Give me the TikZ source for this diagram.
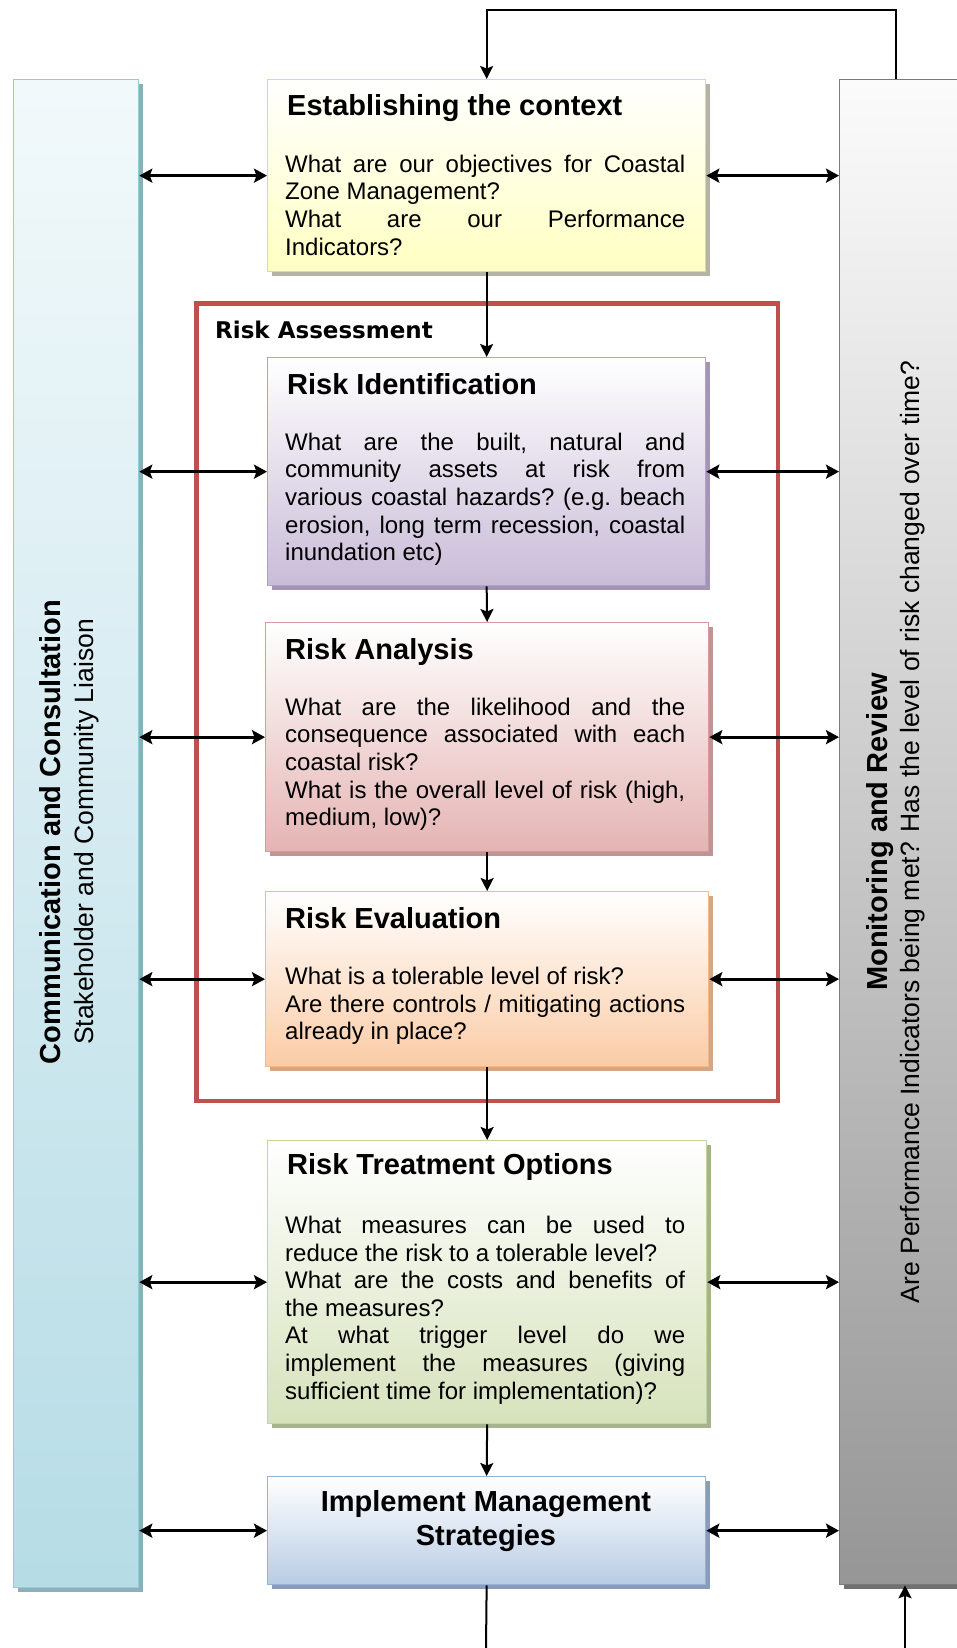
\documentclass[tikz,border=0pt]{standalone}
\usepackage{fontspec}
\setmainfont{Liberation Sans}
\newfontfamily\tahomafont{DejaVu Sans}
\usetikzlibrary{arrows.meta,calc}
\hyphenpenalty=10000
\exhyphenpenalty=10000
\tolerance=10000
\hbadness=10000
\definecolor{ybord}{HTML}{F0E62A}
\definecolor{ybot}{HTML}{FFFFC2}
\definecolor{ysh}{HTML}{B4B4A4}
\definecolor{pbord}{HTML}{B3A2C7}
\definecolor{pbot}{HTML}{C9BCD8}
\definecolor{psh}{HTML}{A396B4}
\definecolor{abord}{HTML}{D99A98}
\definecolor{abot}{HTML}{E4B4B3}
\definecolor{ash}{HTML}{BE9494}
\definecolor{ebord}{HTML}{F7B889}
\definecolor{ebot}{HTML}{FACCA6}
\definecolor{esh}{HTML}{D0A888}
\definecolor{gbord}{HTML}{C3D69B}
\definecolor{gbot}{HTML}{D6E2BC}
\definecolor{gsh}{HTML}{A6B48E}
\definecolor{bbord}{HTML}{95B3D7}
\definecolor{bbot}{HTML}{B8CCE4}
\definecolor{bsh}{HTML}{8C9CB8}
\definecolor{lbbord}{HTML}{92CDDC}
\definecolor{lbtop}{HTML}{F2F9FB}
\definecolor{lbbot}{HTML}{B6DCE6}
\definecolor{lbsh}{HTML}{8CB0BA}
\definecolor{rbbord}{HTML}{7A7A7A}
\definecolor{rbtop}{HTML}{FBFBFB}
\definecolor{rbbot}{HTML}{969696}
\definecolor{rbsh}{HTML}{707070}
\definecolor{rared}{HTML}{C0504D}
\begin{document}
\begin{tikzpicture}[x=1pt,y=-1pt,
  box/.style n args={3}{draw=#1, line width=1.3pt, top color=white, bottom color=#2,
    preaction={fill=#3, transform canvas={xshift=4pt,yshift=-4pt}},
    inner sep=0pt, anchor=north west},
  boxtitle/.style={anchor=base west, inner sep=0pt, font=\bfseries\fontsize{29}{33}\selectfont},
  boxbody/.style={anchor=north west, inner sep=0pt, text width=400pt, align=justify,
    font=\fontsize{24}{27.6}\selectfont\frenchspacing},
  harrow/.style={line width=2.7pt, {Stealth[length=13pt,width=14pt,inset=2.5pt]}-{Stealth[length=13pt,width=14pt,inset=2.5pt]}},
  varrow/.style={line width=2pt, -{Stealth[length=13pt,width=13pt,inset=2.5pt]}},
  conn/.style={line width=2pt}
]
\useasboundingbox (0,0) rectangle (957,1648);

% side bars
\node[box={lbbord}{lbbot}{lbsh}, top color=lbtop, minimum width=125, minimum height=1508] (lb) at (13,79) {};
\node[box={rbbord}{rbbot}{rbsh}, top color=rbtop, minimum width=125, minimum height=1505] (rb) at (839,79) {};
\node[rotate=90, align=center, font=\fontsize{26.5}{33.5}\selectfont] (lbt) at (69,832)
  {{\bfseries\fontsize{29}{33.5}\selectfont Communication and Consultation}\\Stakeholder and Community Liaison};
\node[rotate=90, align=center, font=\fontsize{26.5}{32.5}\selectfont] (rbt) at (895.5,832)
  {{\bfseries\fontsize{29}{32.5}\selectfont Monitoring and Review}\\Are Performance Indicators being met? Has the level of risk changed over time?};

% risk assessment frame
\node[draw=rared, line width=4.5pt, inner sep=0pt, anchor=north west, minimum width=581.5, minimum height=797.5] (ra) at (194.25,301.25) {};
\node[anchor=base west, inner sep=0pt, font=\tahomafont\bfseries\fontsize{23}{27}\selectfont] (ralab) at (215,338) {Risk Assessment};

% establishing the context
\node[box={ybord}{ybot}{ysh}, minimum width=438, minimum height=192] (ctx) at (267,79) {};
\node[boxtitle] (ctxT) at ($(ctx.north west)+(20,37)$) {Establishing the context};
\node[boxbody] (ctxB) at ($(ctx.north west)+(18,75.8)$)
  {What are our objectives for Coastal \linebreak Zone Management?\par
   What are our Performance \linebreak Indicators?};

% risk identification
\node[box={pbord}{pbot}{psh}, minimum width=438, minimum height=228] (rid) at (267,357) {};
\node[boxtitle] (ridT) at ($(rid.north west)+(20,37)$) {Risk Identification};
\node[boxbody] (ridB) at ($(rid.north west)+(18,75.8)$)
  {What are the built, natural and \linebreak community assets at risk from \linebreak various coastal hazards? (e.g. beach \linebreak erosion, long term recession, coastal \linebreak inundation etc)};

% risk analysis
\node[box={abord}{abot}{ash}, minimum width=443, minimum height=229] (ran) at (265,622) {};
\node[boxtitle] (ranT) at ($(ran.north west)+(20,37)$) {Risk Analysis};
\node[boxbody] (ranB) at ($(ran.north west)+(20,75.8)$)
  {What are the likelihood and the \linebreak consequence associated with each \linebreak coastal risk?\par
   What is the overall level of risk (high, \linebreak medium, low)?};

% risk evaluation
\node[box={ebord}{ebot}{esh}, minimum width=443, minimum height=175] (rev) at (265,891) {};
\node[boxtitle] (revT) at ($(rev.north west)+(20,37)$) {Risk Evaluation};
\node[boxbody] (revB) at ($(rev.north west)+(20,75.8)$)
  {What is a tolerable level of risk?\par
   Are there controls / mitigating actions \linebreak already in place?};

% risk treatment options
\node[box={gbord}{gbot}{gsh}, minimum width=439, minimum height=283] (rto) at (267,1140) {};
\node[boxtitle] (rtoT) at ($(rto.north west)+(20,34)$) {Risk Treatment Options};
\node[boxbody] (rtoB) at ($(rto.north west)+(18,75.8)$)
  {What measures can be used to \linebreak reduce the risk to a tolerable level?\par
   What are the costs and benefits of \linebreak the measures?\par
   At what trigger level do we \linebreak implement the measures (giving \linebreak sufficient time for implementation)?};

% implement management strategies
\node[box={bbord}{bbot}{bsh}, minimum width=438, minimum height=108] (ims) at (267,1476) {};
\node[align=center, inner sep=0pt, font=\bfseries\fontsize{29}{34}\selectfont] (imsT) at (486,1521.5)
  {Implement Management\\Strategies};

% vertical flow
\draw[varrow] (ctx.south) -- (rid.north);
\draw[varrow] (rid.south) -- (ran.north);
\draw[varrow] (ran.south) -- (rev.north);
\draw[varrow] (rev.south) -- (rto.north);
\draw[varrow] (rto.south) -- (ims.north);

% horizontal double arrows
\foreach \b in {ctx,rid,ran,rev,rto,ims}{
  \draw[harrow] (lb.east |- \b.west) -- (\b.west);
  \draw[harrow] (\b.east) -- (rb.west |- \b.east);
}

% feedback loop
\coordinate (loopR) at (896,10);
\draw[conn, -{Stealth[length=13pt,width=13pt,inset=2.5pt]}] (loopR |- rb.north) -- (loopR) -| (ctx.north);
\coordinate (botL) at (486,1648);
\coordinate (botR) at (905,1648);
\draw[conn] (ims.south) -- (botL);
\draw[varrow] (botR) -- (botR |- rb.south);
\end{tikzpicture}
\end{document}
